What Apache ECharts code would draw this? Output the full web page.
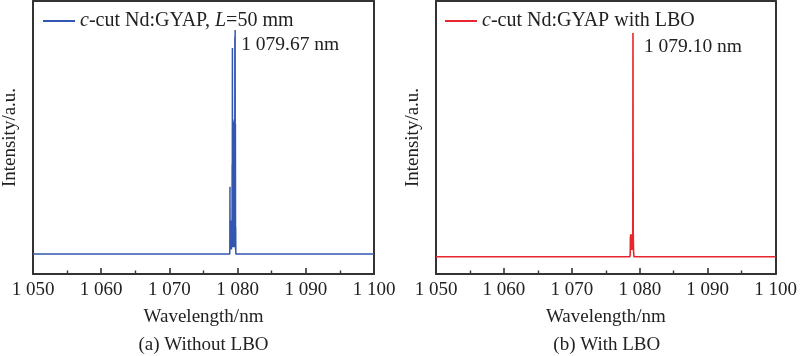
<!DOCTYPE html>
<html>
<head>
<meta charset="utf-8">
<script src="https://cdn.jsdelivr.net/npm/echarts@6/dist/echarts.min.js"></script>
<style>html,body{margin:0;padding:0;background:#fff}#c{width:800px;height:356px}</style>
</head>
<body>
<div id="c"></div>
<script>
// ---- data ----
const xTicks = [1050, 1060, 1070, 1080, 1090, 1100];
const leftWavelength = [1050, 1078.84, 1078.86, 1078.88, 1078.90, 1078.92, 1078.94, 1078.96, 1078.98, 1079.00, 1079.02, 1079.04, 1079.06, 1079.08, 1079.10, 1079.12, 1079.14, 1079.16, 1079.18, 1079.20, 1079.22, 1079.24, 1079.26, 1079.28, 1079.30, 1079.32, 1079.34, 1079.36, 1079.38, 1079.40, 1079.42, 1079.44, 1079.46, 1079.48, 1079.50, 1079.52, 1079.54, 1079.56, 1079.58, 1079.60, 1079.62, 1079.64, 1079.66, 1079.68, 1079.70, 1079.72, 1079.74, 1100];
const leftIntensity  = [0, 0, 0.01, 0.30, 0.02, 0.12, 0.03, 0.14, 0.02, 0.13, 0.04, 0.12, 0.03, 0.15, 0.02, 0.13, 0.05, 0.14, 0.03, 0.40, 0.05, 0.92, 0.06, 0.55, 0.04, 0.58, 0.05, 0.57, 0.03, 0.59, 0.06, 0.56, 0.04, 0.58, 0.05, 0.60, 0.03, 0.57, 0.06, 0.97, 0.05, 1.00, 0.10, 0.58, 0.02, 0.12, 0.00, 0];
const rightWavelength = [1050, 1078.56, 1078.60, 1078.62, 1078.64, 1078.66, 1078.68, 1078.70, 1078.72, 1078.74, 1078.76, 1078.78, 1078.80, 1078.82, 1078.84, 1078.86, 1078.88, 1078.90, 1078.92, 1078.94, 1078.96, 1078.98, 1079.00, 1079.02, 1079.04, 1079.08, 1079.14, 1100];
const rightIntensity  = [0, 0, 0.02, 0.09, 0.03, 0.10, 0.04, 0.09, 0.05, 0.10, 0.03, 0.09, 0.04, 0.08, 0.03, 0.09, 0.05, 0.08, 0.04, 0.09, 0.06, 0.30, 1.00, 0.45, 0.10, 0.03, 0.00, 0];
const leftName = 'c-cut Nd:GYAP, L=50 mm';
const rightName = 'c-cut Nd:GYAP with LBO';
const leftPeakLabel = '1 079.67 nm';
const rightPeakLabel = '1 079.10 nm';
const captions = ['(a) Without LBO', '(b) With LBO'];

const FONT = '"Liberation Serif", "Times New Roman", serif';
const FS = 19;
const TXT = '#222';
const FRAME = '#333';
const leftColor = '#3356b0';
const rightColor = '#e8262e';

function pairs(xs, ys) { return xs.map((x, i) => [x, ys[i]]); }
function fmt(v) { const s = String(v); return s.length > 3 ? s.slice(0, s.length - 3) + ' ' + s.slice(-3) : s; }

const grids = [
  { left: 33, right: 426, top: 1, bottom: 82 },
  { left: 436, right: 22.5, top: 1, bottom: 82 }
];
const yRanges = [[-0.0893, 1.1295], [-0.0774, 1.143]];

function xAxis(i) {
  return {
    gridIndex: i, type: 'value', min: xTicks[0], max: xTicks[xTicks.length - 1], interval: 10,
    axisLine: { show: true, onZero: false, lineStyle: { color: FRAME, width: 2 } },
    axisTick: { show: true, inside: true, length: 6, lineStyle: { color: FRAME, width: 1.6 } },
    minorTick: { show: true, splitNumber: 2, length: 3.5, lineStyle: { color: FRAME, width: 1.4 } },
    splitLine: { show: false },
    axisLabel: { margin: 7, fontFamily: FONT, fontSize: FS, color: TXT, formatter: fmt },
    name: 'Wavelength/nm', nameLocation: 'middle', nameGap: 34,
    nameTextStyle: { fontFamily: FONT, fontSize: FS, color: TXT }
  };
}
function yAxis(i) {
  return {
    gridIndex: i, type: 'value', min: yRanges[i][0], max: yRanges[i][1],
    axisLine: { show: true, onZero: false, lineStyle: { color: FRAME, width: 2 } },
    axisTick: { show: false }, axisLabel: { show: false }, splitLine: { show: false },
    name: 'Intensity/a.u.', nameLocation: 'middle', nameGap: 13,
    nameTextStyle: { fontFamily: FONT, fontSize: FS, color: TXT }
  };
}
function frameX(i) {
  return { gridIndex: i, type: 'value', position: 'top', min: xTicks[0], max: xTicks[xTicks.length - 1],
    axisLine: { show: true, onZero: false, lineStyle: { color: FRAME, width: 2 } },
    axisTick: { show: false }, axisLabel: { show: false }, splitLine: { show: false } };
}
function frameY(i) {
  return { gridIndex: i, type: 'value', position: 'right', min: yRanges[i][0], max: yRanges[i][1],
    axisLine: { show: true, onZero: false, lineStyle: { color: FRAME, width: 2 } },
    axisTick: { show: false }, axisLabel: { show: false }, splitLine: { show: false } };
}
function legend(name, left) {
  const st = { fontFamily: FONT, fontSize: 20, color: TXT };
  return {
    data: [name], left: left, top: 11, padding: 0, itemWidth: 32, itemHeight: 2, icon: 'rect', itemGap: 0,
    textStyle: Object.assign({}, st, {
      rich: { i: Object.assign({ fontStyle: 'italic' }, st), n: Object.assign({}, st) }
    }),
    formatter: function (n) {
      if (n === leftName) return '{i|c}{n|-cut Nd:GYAP, }{i|L}{n|=50 mm}';
      return '{i|c}{n|-cut Nd:GYAP with LBO}';
    }
  };
}
function series(i, name, data, color, width, peak, label, off) {
  return {
    name: name, type: 'line', xAxisIndex: i, yAxisIndex: i, data: data,
    showSymbol: false, symbol: 'none', sampling: false, animation: false,
    lineStyle: { color: color, width: width }, itemStyle: { color: color },
    markPoint: {
      symbol: 'circle', symbolSize: 0, silent: true,
      data: [{ coord: peak, value: label }],
      label: { show: true, position: off, align: 'left', verticalAlign: 'middle', formatter: label,
               fontFamily: FONT, fontSize: 19.5, color: TXT }
    }
  };
}

const chart = echarts.init(document.getElementById('c'), null, { renderer: 'canvas' });
chart.setOption({
  animation: false,
  backgroundColor: '#fff',
  grid: grids.map(g => Object.assign({ show: false }, g)),
  xAxis: [xAxis(0), xAxis(1), frameX(0), frameX(1)],
  yAxis: [yAxis(0), yAxis(1), frameY(0), frameY(1)],
  legend: [legend(leftName, 43), legend(rightName, 445)],
  series: [
    series(0, leftName, pairs(leftWavelength, leftIntensity), leftColor, 1.5, [1079.64, 1.0], leftPeakLabel, [6, 15]),
    series(1, rightName, pairs(rightWavelength, rightIntensity), rightColor, 1.6, [1079.00, 1.0], rightPeakLabel, [11, 14])
  ],
  graphic: captions.map((t, i) => {
    const g = grids[i];
    const cx = g.left + (800 - g.left - g.right) / 2;
    return { type: 'text', x: cx, y: 345,
      style: { text: t, fontFamily: FONT, fontSize: FS, fill: TXT, align: 'center', verticalAlign: 'middle' } };
  })
});
</script>
</body>
</html>
